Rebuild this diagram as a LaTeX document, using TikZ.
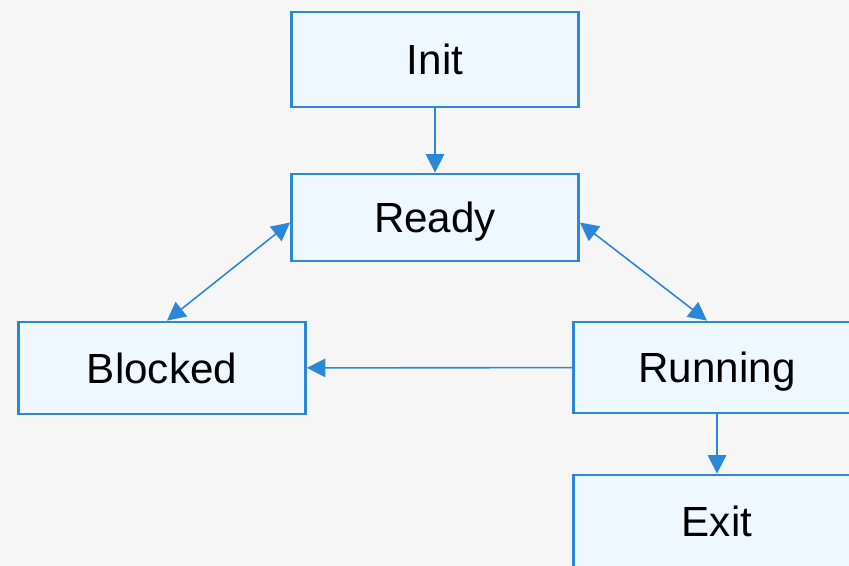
\documentclass[tikz,border=0pt]{standalone}
\usepackage{fontspec}
\setmainfont{Liberation Sans}
\usetikzlibrary{arrows.meta}
\definecolor{boxblue}{HTML}{2B88D8}
\definecolor{boxfill}{HTML}{F0F8FF}
\definecolor{paper}{HTML}{F6F6F6}
\tikzset{
	state/.style={draw=boxblue, fill=boxfill, line width=1.6pt, minimum width=5.74cm, inner sep=0pt, text height=17.5pt, text depth=0pt, font=\fontsize{24}{28}\selectfont},
	link/.style={draw=boxblue, line width=0.9pt, -{Triangle[length=10.5pt,width=10.5pt]}},
	twolink/.style={link, {Triangle[length=10.5pt,width=10.5pt]}-{Triangle[length=10.5pt,width=10.5pt]}}
}

\begin{document}
\begin{tikzpicture}
			%%%%% START %%%%%
			
			\fill[paper] (0, 0) rectangle (16.98, -11.32);
			\useasboundingbox (0, 0) rectangle (16.98, -11.32);
			
			\node[state, minimum height=1.9cm] (init) at (8.70, -1.19) {Init};
			\node[state, minimum height=1.74cm] (ready) at (8.70, -4.35) {Ready};
			\node[state, minimum height=1.84cm] (blocked) at (3.24, -7.36) {Blocked};
			\node[state, minimum height=1.82cm] (running) at (14.34, -7.35) {Running};
			\node[state, minimum height=1.84cm] (exit) at (14.34, -10.42) {Exit};
			
			\draw[link] (init) -- (ready);
			\draw[twolink] ([xshift=0.1cm]blocked.north) -- ([yshift=-0.1cm]ready.west);
			\draw[twolink] ([yshift=-0.1cm]ready.east) -- ([xshift=-0.2cm]running.north);
			\draw[link] (running) -- (blocked);
			\draw[link] (running) -- (exit);
			
			%%%%% END %%%%%
\end{tikzpicture}
\end{document}
